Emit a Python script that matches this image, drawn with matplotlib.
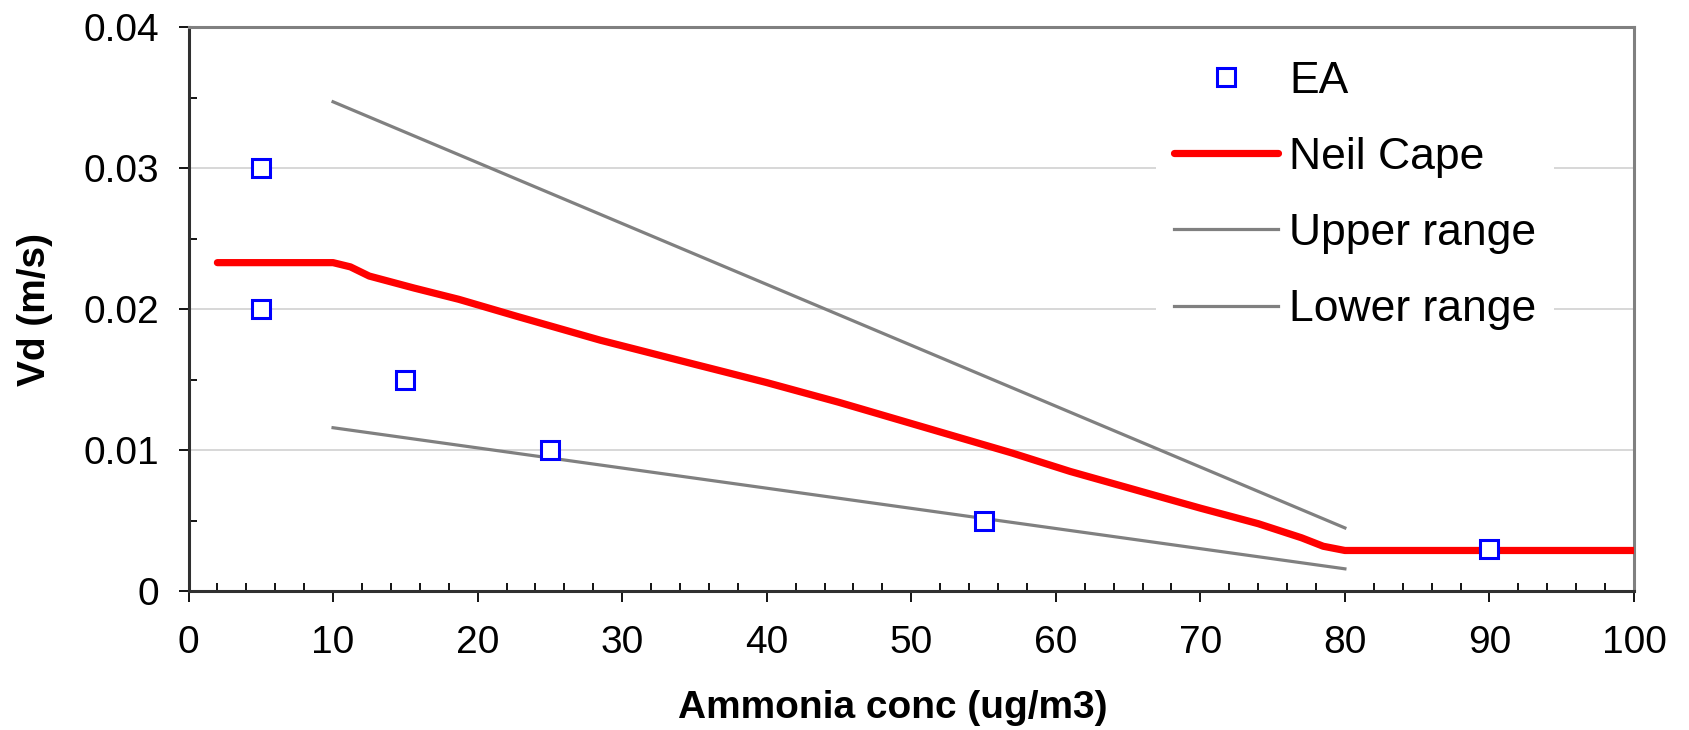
import numpy as np
import matplotlib
matplotlib.use("Agg")
import matplotlib.pyplot as plt
from matplotlib.ticker import MultipleLocator, FixedFormatter, FixedLocator

plt.rcParams['font.family'] = ['Liberation Sans', 'DejaVu Sans']

# EA measurements
ea_x = [5, 5, 15, 25, 55, 90]
ea_y = [0.030, 0.020, 0.015, 0.010, 0.005, 0.003]

# Neil Cape curve
cape_x = [2, 10, 11.2, 12.5, 15.6, 18.7, 22.7, 28.5, 35, 40, 45, 53, 57, 61, 65.5, 70, 74, 77, 78.5, 80, 100]
cape_y = [0.0233, 0.0233, 0.0230, 0.02235, 0.0215, 0.0207, 0.0195, 0.0178, 0.0161, 0.0148, 0.0134,
          0.0110, 0.0098, 0.0085, 0.0072, 0.0059, 0.0048, 0.0038, 0.0032, 0.0029, 0.0029]

# upper / lower range lines
upper_x = [10, 80]
upper_y = [0.0347, 0.0045]
lower_x = [10, 80]
lower_y = [0.0116, 0.0016]

yticks = [0, 0.01, 0.02, 0.03, 0.04]
yticklabels = ['0', '0.01', '0.02', '0.03', '0.04']

fig = plt.figure(figsize=(16.89, 7.30), dpi=100)
ax = fig.add_axes([188.5/1689, 1-591.4/730, 1445.5/1689, 564.4/730])

ax.plot(cape_x, cape_y, color='#ff0000', lw=5.2, solid_capstyle='round', label='Neil Cape', zorder=3)
ax.plot(upper_x, upper_y, color='#808080', lw=2.3, label='Upper range', zorder=2)
ax.plot(lower_x, lower_y, color='#808080', lw=2.3, label='Lower range', zorder=2)
ax.plot(ea_x, ea_y, ls='none', marker='s', ms=13, mfc='white', mec='#0000ff', mew=2.2,
        label='EA', zorder=4)

ax.set_xlim(0, 100)
ax.set_ylim(0, 0.04)
ax.xaxis.set_major_locator(MultipleLocator(10))
ax.xaxis.set_minor_locator(MultipleLocator(2))
ax.yaxis.set_major_locator(FixedLocator(yticks))
ax.yaxis.set_major_formatter(FixedFormatter(yticklabels))
ax.yaxis.set_minor_locator(MultipleLocator(0.005))

ax.tick_params(axis='both', which='major', direction='out', labelsize=28, width=1.3, color='black')
ax.tick_params(axis='x', which='major', length=8, pad=16)
ax.tick_params(axis='y', which='major', length=7, pad=14)
ax.tick_params(axis='both', which='minor', direction='in', length=5.5, width=1.3, color='black')

ax.yaxis.grid(True, which='major', color='#d4d4d4', lw=1.3)
ax.set_axisbelow(True)

for s in ['left', 'bottom']:
    ax.spines[s].set_color('#303030')
    ax.spines[s].set_linewidth(2.2)
for s in ['top', 'right']:
    ax.spines[s].set_color('#808080')
    ax.spines[s].set_linewidth(2.2)

ax.set_xlabel('Ammonia conc (ug/m3)', fontsize=28, fontweight='bold')
ax.set_ylabel('Vd (m/s)', fontsize=28, fontweight='bold')
ax.xaxis.set_label_coords(0.487, -0.174)
ax.yaxis.set_label_coords(-0.094, 0.5)

h, l = ax.get_legend_handles_labels()
order = [3, 0, 1, 2]
leg = ax.legend([h[i] for i in order], [l[i] for i in order], loc='upper left',
                bbox_to_anchor=(1156/1689, 1-43/730), bbox_transform=fig.transFigure,
                fontsize=32, frameon=True, facecolor='white', edgecolor='none', framealpha=1,
                fancybox=False, handlelength=2.34, handletextpad=0.25, labelspacing=0.79,
                borderpad=0.4, borderaxespad=0, numpoints=1)

fig.savefig('out.png', dpi=100)
